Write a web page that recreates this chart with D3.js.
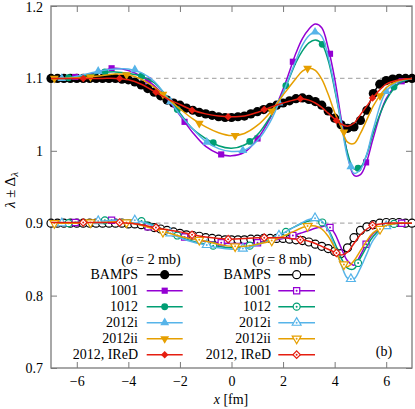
<!DOCTYPE html>
<html>
<head>
<meta charset="utf-8">
<script src="https://cdn.jsdelivr.net/npm/d3@7"></script>
<style>
body { margin: 0; background: #fff; }
text { font-family: "Liberation Serif", "DejaVu Serif", serif; font-size: 14px; fill: #000; }
</style>
</head>
<body>
<div id="grafico"></div>
<script>
// ---- dados ----
var nomes = ["BAMPS", "1001", "1012", "2012i", "2012ii", "2012, IReD"];
var cores = ["#000000", "#9400d3", "#009e73", "#56b4e9", "#e69f00", "#e51e10"];
var y_ticks = [0.7, 0.8, 0.9, 1, 1.1, 1.2];
var x_ticks = [-6, -4, -2, 0, 2, 4, 6];
var ref_levels = [1.1, 0.9];

// BAMPS (pontos densos)
var bx = [-7,-6.75,-6.5,-6.25,-6,-5.75,-5.5,-5.25,-5,-4.75,-4.5,-4.25,-4,-3.75,-3.5,-3.25,-3,-2.75,-2.5,-2.25,
          -2,-1.75,-1.5,-1.25,-1,-0.75,-0.5,-0.25,0,0.25,0.5,0.75,1,1.25,1.5,1.75,2,2.25,2.5,2.75,
          3,3.25,3.5,3.75,4,4.25,4.5,4.75,5,5.25,5.5,5.75,6,6.25,6.5,6.75,7];
var bamps_2 = [1.1,1.1,1.1,1.1,1.1,1.1,1.1,1.1,1.1,1.1,1.1,1.099,1.098,1.095,1.091,1.086,1.081,1.076,1.07,1.066,
               1.063,1.059,1.056,1.053,1.051,1.049,1.047,1.046,1.046,1.047,1.048,1.051,1.054,1.057,1.06,1.063,1.066,1.069,1.072,1.073,
               1.071,1.068,1.063,1.055,1.045,1.036,1.031,1.033,1.042,1.056,1.079,1.092,1.097,1.099,1.1,1.1,1.1];
var bamps_8 = [0.9,0.9,0.9,0.9,0.9,0.9,0.9,0.9,0.9,0.9,0.9,0.9,0.899,0.899,0.898,0.896,0.894,0.892,0.89,0.888,
               0.886,0.884,0.883,0.882,0.88,0.879,0.878,0.877,0.877,0.877,0.877,0.878,0.878,0.879,0.879,0.879,0.879,0.878,0.877,0.876,
               0.874,0.871,0.868,0.865,0.861,0.858,0.866,0.88,0.89,0.895,0.898,0.9,0.901,0.901,0.901,0.9,0.9];

// curvas dos modelos
var xs = [-7,-6.5,-6,-5.5,-5,-4.5,-4,-3.5,-3,-2.5,-2,-1.5,-1,-0.5,0,0.5,1,1.5,2,
          2.5,2.75,3,3.25,3.5,3.75,4,4.25,4.5,4.75,5,5.25,5.5,6,6.5,7];

var l1001_2 = [1.1,1.1,1.102,1.106,1.111,1.114,1.111,1.103,1.09,1.072,1.049,1.025,1.006,0.996,0.993,0.998,1.016,1.045,1.085,
               1.135,1.155,1.168,1.175,1.17,1.142,1.1,1.045,0.995,0.966,0.967,0.986,1.018,1.072,1.094,1.1];
var l1012_2 = [1.1,1.1,1.102,1.105,1.108,1.109,1.107,1.103,1.094,1.075,1.052,1.03,1.017,1.007,1.0035,1.008,1.022,1.047,1.08,
               1.122,1.138,1.149,1.153,1.148,1.125,1.085,1.04,0.997,0.975,0.977,0.995,1.025,1.07,1.093,1.1];
var l2012i_2 = [1.1,1.1,1.103,1.107,1.111,1.113,1.113,1.108,1.096,1.074,1.05,1.03,1.013,1.003,0.999,1.001,1.014,1.04,1.08,
                1.125,1.146,1.159,1.164,1.158,1.13,1.088,1.04,0.991,0.969,0.974,0.996,1.03,1.082,1.096,1.1];
var l2012ii_2 = [1.1,1.1,1.101,1.102,1.104,1.106,1.105,1.099,1.088,1.073,1.058,1.044,1.033,1.025,1.021,1.024,1.035,1.053,1.077,
                 1.1,1.11,1.114,1.111,1.099,1.078,1.053,1.033,1.012,1.01,1.024,1.043,1.062,1.087,1.097,1.1];
var lired_2 = [1.1,1.1,1.1,1.1,1.1,1.1,1.098,1.092,1.082,1.072,1.064,1.056,1.051,1.048,1.047,1.048,1.053,1.06,1.066,
               1.071,1.072,1.07,1.066,1.06,1.052,1.044,1.037,1.034,1.038,1.05,1.062,1.074,1.092,1.098,1.1];

var l1001_8 = [0.9,0.9,0.901,0.902,0.903,0.904,0.902,0.898,0.893,0.887,0.882,0.878,0.875,0.873,0.872,0.872,0.873,0.876,0.879,
               0.884,0.887,0.89,0.893,0.895,0.897,0.886,0.866,0.848,0.842,0.856,0.873,0.886,0.897,0.9,0.9];
var l1012_8 = [0.9,0.9,0.901,0.902,0.903,0.904,0.904,0.903,0.897,0.889,0.881,0.875,0.871,0.868,0.866,0.867,0.871,0.878,0.887,
               0.896,0.9,0.903,0.904,0.901,0.891,0.873,0.852,0.838,0.837,0.852,0.868,0.882,0.897,0.9,0.9];
var l2012i_8 = [0.9,0.9,0.901,0.902,0.903,0.904,0.904,0.902,0.896,0.888,0.88,0.874,0.87,0.866,0.864,0.865,0.87,0.877,0.886,
                0.896,0.901,0.905,0.907,0.903,0.89,0.868,0.843,0.824,0.823,0.838,0.858,0.877,0.896,0.9,0.9];
var l2012ii_8 = [0.9,0.9,0.9,0.901,0.901,0.902,0.901,0.897,0.892,0.887,0.882,0.878,0.875,0.871,0.868,0.868,0.871,0.875,0.882,
                 0.89,0.894,0.896,0.896,0.892,0.882,0.866,0.846,0.84,0.848,0.862,0.876,0.887,0.897,0.9,0.9];
var lired_8 = [0.901,0.901,0.901,0.901,0.901,0.901,0.9,0.898,0.894,0.891,0.888,0.884,0.881,0.879,0.878,0.879,0.88,0.88,0.88,
               0.878,0.877,0.875,0.872,0.868,0.864,0.86,0.856,0.86,0.872,0.884,0.892,0.897,0.9,0.9,0.9];

// posicoes dos simbolos
var mk_1001 = [-6.06,-4.65,-3.23,-1.82,-0.4,1.01,2.38,3.82,5.22,6.6];
var mk_1012 = [-6.32,-4.91,-3.49,-2.1,-0.71,0.71,2.11,3.52,4.91,6.3];
var mk_2012i = [-6.58,-5.17,-3.75,-2.37,-0.96,0.44,1.84,3.24,4.63,6.0];
var mk_2012ii = [-6.87,-5.47,-4.07,-2.66,-1.25,0.14,1.56,2.95,4.36,5.76];
var mk_ired = [-5.75,-4.34,-2.93,-1.53,-0.13,1.27,2.67,4.07,5.47];

var p1001_2 = [1.102,1.114,1.097,1.04,0.995,1.017,1.123,1.134,0.984,1.096];
var p1012_2 = [1.101,1.109,1.103,1.057,1.011,1.013,1.09,1.147,0.976,1.088];
var p2012i_2 = [1.1,1.11,1.112,1.068,1.012,1.0005,1.066,1.164,0.978,1.082];
var p2012ii_2 = [1.1,1.102,1.105,1.078,1.038,1.021,1.055,1.114,1.026,1.076];
var pired_2 = [1.1,1.1,1.081,1.056,1.047,1.057,1.072,1.042,1.073];

var p1001_8 = [0.901,0.904,0.895,0.881,0.873,0.873,0.883,0.894,0.871,0.9];
var p1012_8 = [0.9,0.904,0.903,0.883,0.869,0.869,0.888,0.901,0.845,0.899];
var p2012i_8 = [0.9,0.903,0.904,0.886,0.87,0.865,0.883,0.907,0.823,0.896];
var p2012ii_8 = [0.9,0.901,0.901,0.888,0.877,0.868,0.876,0.896,0.843,0.892];
var pired_8 = [0.901,0.901,0.894,0.884,0.878,0.88,0.877,0.859,0.897];

var modelos = [
  {nome: nomes[1], cor: cores[1], forma: "square",   mx: mk_1001,   l2: l1001_2,   l8: l1001_8,   p2: p1001_2,   p8: p1001_8},
  {nome: nomes[2], cor: cores[2], forma: "circle",   mx: mk_1012,   l2: l1012_2,   l8: l1012_8,   p2: p1012_2,   p8: p1012_8},
  {nome: nomes[3], cor: cores[3], forma: "triup",    mx: mk_2012i,  l2: l2012i_2,  l8: l2012i_8,  p2: p2012i_2,  p8: p2012i_8},
  {nome: nomes[4], cor: cores[4], forma: "tridown",  mx: mk_2012ii, l2: l2012ii_2, l8: l2012ii_8, p2: p2012ii_2, p8: p2012ii_8},
  {nome: nomes[5], cor: cores[5], forma: "diamond",  mx: mk_ired,   l2: lired_2,   l8: lired_8,   p2: pired_2,   p8: pired_8}
];

// ---- grafico ----
var width = 415, height = 409;
var esq = 51, dir = 412, topo = 6, base = 368;

var svg = d3.select("#grafico").append("svg")
            .attr("width", width)
            .attr("height", height);

var x = d3.scaleLinear().domain([-7, 7]).range([esq, dir]);
var y = d3.scaleLinear().domain([0.7, 1.2]).range([base, topo]);

var cinza = "#7a7a7a";

// eixos (ticks para dentro, espelhados)
var fmt_y = d3.format("~g");
var eixos = [
  {ax: d3.axisBottom(x).tickValues(x_ticks).tickSize(-6).tickPadding(8), t: "translate(0," + base + ")"},
  {ax: d3.axisTop(x).tickValues(x_ticks).tickSize(-6).tickFormat(""), t: "translate(0," + topo + ")"},
  {ax: d3.axisLeft(y).tickValues(y_ticks).tickSize(-6).tickPadding(8).tickFormat(fmt_y), t: "translate(" + esq + ",0)"},
  {ax: d3.axisRight(y).tickValues(y_ticks).tickSize(-6).tickFormat(""), t: "translate(" + dir + ",0)"}
];
eixos.forEach(function(e){
  var g = svg.append("g").attr("transform", e.t).call(e.ax);
  g.select(".domain").remove();
  g.selectAll("line").style("stroke", cinza).style("stroke-width", 1);
  g.selectAll("text").style("font-family", '"Liberation Serif", "DejaVu Serif", serif').style("font-size", "14px").style("fill", "#000");
});
// o rotulo do topo fica encostado na borda: desce um pouco
svg.selectAll("text").filter(function(d){ return d === 1.2; }).attr("dy", "0.42em");

svg.append("rect")
   .attr("x", esq).attr("y", topo)
   .attr("width", dir - esq).attr("height", base - topo)
   .style("fill", "none").style("stroke", cinza).style("stroke-width", 1.3);

// linhas tracejadas de referencia
svg.selectAll(".ref").data(ref_levels).enter().append("line")
   .attr("class", "ref")
   .attr("x1", x(-7) + 1).attr("x2", x(7) - 1)
   .attr("y1", function(d){ return y(d); })
   .attr("y2", function(d){ return y(d); })
   .style("stroke", "#b0b0b0").style("stroke-width", 1.2)
   .style("stroke-dasharray", "4.5,3.5");

function simbolo(forma){
  if (forma == "square") return d3.symbol().type(d3.symbolSquare).size(38)();
  if (forma == "circle") return d3.symbol().type(d3.symbolCircle).size(38)();
  if (forma == "triup" || forma == "tridown") return d3.symbol().type(d3.symbolTriangle).size(34)();
  if (forma == "diamond") return d3.symbol().type(d3.symbolSquare).size(28)();
  return d3.symbol().type(d3.symbolCircle).size(58)();
}
function rotacao(forma){
  if (forma == "tridown") return 180;
  if (forma == "diamond") return 45;
  return 0;
}

function marcador(g, forma, cor, px, py, aberto){
  var p = g.append("path")
           .attr("d", simbolo(forma))
           .attr("transform", "translate(" + px + "," + py + ") rotate(" + rotacao(forma) + ")");
  if (aberto) {
    p.style("fill", "#fff").style("stroke", cor).style("stroke-width", 1.2);
    g.append("circle").attr("cx", px).attr("cy", py).attr("r", 1).style("fill", cor);
  } else {
    p.style("fill", cor).style("stroke", "none");
  }
}

var linha_b = d3.line()
                .x(function(d, i){ return x(bx[i]); })
                .y(function(d){ return y(d); })
                .curve(d3.curveCatmullRom.alpha(0.5));
var linha = d3.line()
              .x(function(d, i){ return x(xs[i]); })
              .y(function(d){ return y(d); })
              .curve(d3.curveCatmullRom.alpha(0.5));

var dados = svg.append("g").attr("class", "dados");

// BAMPS
[[bamps_2, false], [bamps_8, true]].forEach(function(s){
  var g = dados.append("g");
  g.append("path").attr("d", linha_b(s[0]))
   .style("fill", "none").style("stroke", "#000").style("stroke-width", 1.5);
  s[0].forEach(function(v, i){
    if (s[1]) {
      g.append("circle").attr("cx", x(bx[i])).attr("cy", y(v)).attr("r", 4)
       .style("fill", "#fff").style("stroke", "#000").style("stroke-width", 1.2);
    } else {
      g.append("circle").attr("cx", x(bx[i])).attr("cy", y(v)).attr("r", 4.6)
       .style("fill", "#000");
    }
  });
});

// modelos
modelos.forEach(function(m){
  [[m.l2, m.p2, false], [m.l8, m.p8, true]].forEach(function(s){
    var g = dados.append("g");
    g.append("path").attr("d", linha(s[0]))
     .style("fill", "none").style("stroke", m.cor).style("stroke-width", 1.5);
    s[1].forEach(function(v, i){
      marcador(g, m.forma, m.cor, x(m.mx[i]), y(v), s[2]);
    });
  });
});

// legenda
var blocos = [
  {titulo: "2 mb", cx: 151, tx: 138, l0: 146.7, l1: 182.7, aberto: false},
  {titulo: "8 mb", cx: 282, tx: 271, l0: 278.3, l1: 315, aberto: true}
];
var formas = ["bamps"].concat(modelos.map(function(m){ return m.forma; }));

blocos.forEach(function(b){
  var leg = svg.append("g").attr("class", "legenda");
  var t = leg.append("text").attr("x", b.cx).attr("y", 264).attr("text-anchor", "middle");
  t.append("tspan").text("(");
  t.append("tspan").style("font-style", "italic").text("σ");
  t.append("tspan").text(" = " + b.titulo + ")");

  nomes.forEach(function(n, i){
    var yy = 274.7 + 16 * i;
    leg.append("text").attr("x", b.tx).attr("y", yy + 4.5).attr("text-anchor", "end").text(n);
    leg.append("line").attr("x1", b.l0).attr("x2", b.l1).attr("y1", yy).attr("y2", yy)
       .style("stroke", cores[i]).style("stroke-width", 1.5);
    var mx = (b.l0 + b.l1) / 2;
    if (i == 0) {
      leg.append("circle").attr("cx", mx).attr("cy", yy).attr("r", b.aberto ? 4 : 4.6)
         .style("fill", b.aberto ? "#fff" : "#000")
         .style("stroke", b.aberto ? "#000" : "none").style("stroke-width", 1.2);
    } else {
      marcador(leg, formas[i], cores[i], mx, yy, b.aberto);
    }
  });
});

svg.append("text").attr("x", 384).attr("y", 356).attr("text-anchor", "middle").text("(b)");

// titulos dos eixos
var xl = svg.append("text").attr("x", 231).attr("y", 404).attr("text-anchor", "middle");
xl.append("tspan").style("font-style", "italic").text("x");
xl.append("tspan").text(" [fm]");

var yl = svg.append("text").attr("transform", "translate(15,190) rotate(-90)")
            .attr("text-anchor", "middle").style("font-size", "15px");
yl.append("tspan").style("font-style", "italic").text("λ");
yl.append("tspan").text(" ± Δ");
yl.append("tspan").style("font-style", "italic").style("font-size", "11px").attr("dy", 3).text("λ");
</script>
</body>
</html>
